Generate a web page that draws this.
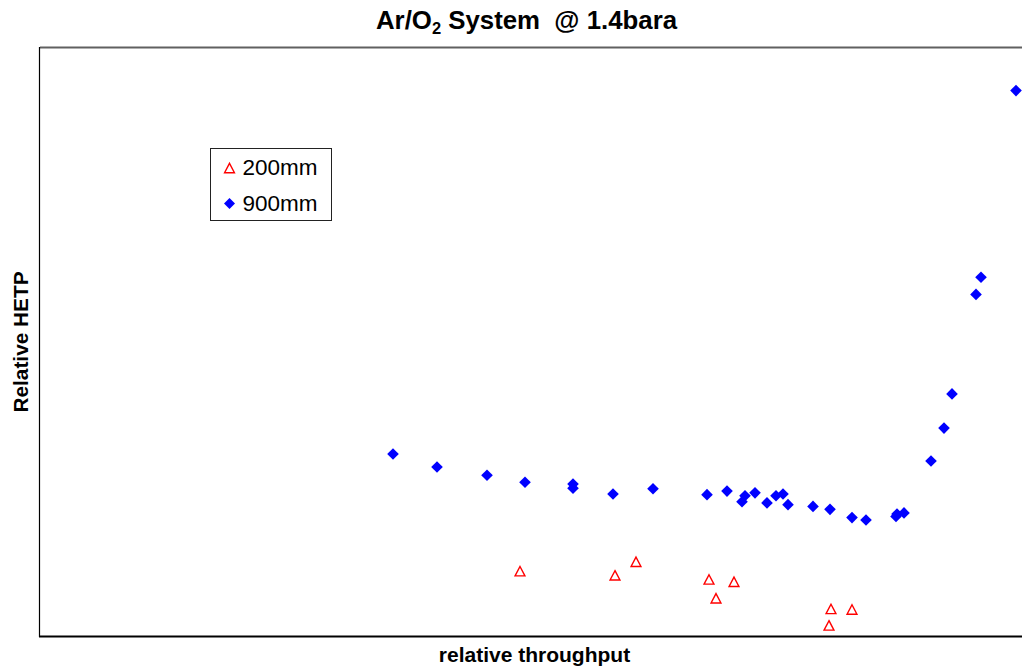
<!DOCTYPE html>
<html>
<head>
<meta charset="utf-8">
<script src="https://cdn.jsdelivr.net/npm/d3@7"></script>
<style>
	html, body { margin: 0; padding: 0; background: #fff; overflow: hidden; }
	#chart { width: 1022px; height: 668px; }
	text { font-family: Arial, 'Liberation Sans', sans-serif; }
</style>
</head>
<body>
<div id="chart"></div>
<script>
// values (relative units, 0..1 on both axes)
const seriesNames = ['200mm', '900mm'];

const x200 = [0.480, 0.575, 0.596, 0.669, 0.676, 0.694, 0.789, 0.791, 0.812];
const y200 = [0.110, 0.103, 0.126, 0.096, 0.064, 0.092, 0.018, 0.046, 0.045];

const x900 = [
	0.353, 0.397, 0.447, 0.485, 0.533, 0.533, 0.573, 0.613, 0.667, 0.687,
	0.702, 0.705, 0.715, 0.727, 0.736, 0.743, 0.748, 0.773, 0.790, 0.812,
	0.826, 0.856, 0.857, 0.864, 0.891, 0.904, 0.912, 0.936, 0.941, 0.976,
];
const y900 = [
	0.309, 0.287, 0.273, 0.261, 0.258, 0.251, 0.241, 0.250, 0.240, 0.246,
	0.228, 0.238, 0.243, 0.226, 0.238, 0.241, 0.223, 0.220, 0.215, 0.201,
	0.197, 0.203, 0.207, 0.209, 0.297, 0.353, 0.411, 0.580, 0.609, 0.926,
];

class ScatterChart {
	constructor({ element }) {
		this.element = element;
		this.data200 = x200.map((x, i) => ({ x, y: y200[i] }));
		this.data900 = x900.map((x, i) => ({ x, y: y900[i] }));

		this.draw();
	}

	draw() {
		this.width = 1022;
		this.height = 668;
		this.margin = {
			top: 47,
			right: -18,
			bottom: 32,
			left: 40,
		};

		this.element.innerHTML = '';
		this.svg = d3
			.select(this.element)
			.append('svg')
			.attr('width', this.width)
			.attr('height', this.height);

		this.createScales();
		this.addFrame();
		this.addLabels();
		this.addPoints();
		this.addLegend();
	}

	createScales() {
		const m = this.margin;

		this.xScale = d3
			.scaleLinear()
			.range([m.left, this.width - m.right])
			.domain([0, 1]);

		this.yScale = d3
			.scaleLinear()
			.range([this.height - m.bottom, m.top])
			.domain([0, 1]);
	}

	addFrame() {
		const [x0, x1] = this.xScale.range();
		const [y0, y1] = this.yScale.range();

		// top edge is grey, left and bottom are black like the original
		this.svg
			.append('line')
			.attr('x1', x0)
			.attr('x2', x1)
			.attr('y1', y1 + 0.5)
			.attr('y2', y1 + 0.5)
			.attr('stroke', '#606060')
			.attr('stroke-width', 2);

		this.svg
			.append('line')
			.attr('x1', x0 - 0.5)
			.attr('x2', x0 - 0.5)
			.attr('y1', y1)
			.attr('y2', y0 + 1)
			.attr('stroke', '#000')
			.attr('stroke-width', 1.2);

		this.svg
			.append('line')
			.attr('x1', x0 - 1)
			.attr('x2', x1)
			.attr('y1', y0 + 0.5)
			.attr('y2', y0 + 0.5)
			.attr('stroke', '#000')
			.attr('stroke-width', 2);
	}

	addLabels() {
		const title = this.svg
			.append('text')
			.attr('x', 526.5)
			.attr('y', 29)
			.attr('text-anchor', 'middle')
			.attr('font-size', 25.8)
			.attr('font-weight', 'bold')
			.style('white-space', 'pre');
		title.append('tspan').text('Ar/O');
		title.append('tspan').attr('font-size', 16.5).attr('dy', 5).text('2');
		title.append('tspan').attr('dy', -5).text(' System  @ 1.4bara');

		this.svg
			.append('text')
			.attr('x', 534.5)
			.attr('y', 662)
			.attr('text-anchor', 'middle')
			.attr('font-size', 21)
			.attr('font-weight', 'bold')
			.text('relative throughput');

		this.svg
			.append('text')
			.attr('transform', 'translate(28, 342) rotate(-90)')
			.attr('text-anchor', 'middle')
			.attr('font-size', 20.8)
			.attr('font-weight', 'bold')
			.text('Relative HETP');
	}

	triangle(s) {
		return `M0,${-s}L${s * 1.05},${s}L${-s * 1.05},${s}Z`;
	}

	diamond(s) {
		return `M0,${-s}L${s},0L0,${s}L${-s},0Z`;
	}

	addPoints() {
		this.svg
			.append('g')
			.selectAll('path')
			.data(this.data900)
			.join('path')
			.attr('transform', (d) => `translate(${this.xScale(d.x)},${this.yScale(d.y)})`)
			.attr('d', this.diamond(5.8))
			.attr('fill', '#0000ff');

		this.svg
			.append('g')
			.selectAll('path')
			.data(this.data200)
			.join('path')
			.attr('transform', (d) => `translate(${this.xScale(d.x)},${this.yScale(d.y)})`)
			.attr('d', this.triangle(4.7))
			.attr('fill', 'none')
			.attr('stroke', '#ff0000')
			.attr('stroke-width', 1.4);
	}

	addLegend() {
		const legend = this.svg.append('g').attr('transform', 'translate(210.5,148.5)');

		legend
			.append('rect')
			.attr('width', 121)
			.attr('height', 72)
			.attr('fill', '#fff')
			.attr('stroke', '#222')
			.attr('stroke-width', 1);

		legend
			.append('path')
			.attr('transform', 'translate(19,19.5)')
			.attr('d', this.triangle(4.7))
			.attr('fill', 'none')
			.attr('stroke', '#ff0000')
			.attr('stroke-width', 1.4);

		legend
			.append('path')
			.attr('transform', 'translate(19,55)')
			.attr('d', this.diamond(5.5))
			.attr('fill', '#0000ff');

		legend
			.selectAll('text')
			.data(seriesNames)
			.join('text')
			.attr('x', 32)
			.attr('y', (d, i) => 26.5 + i * 36)
			.attr('font-size', 22.5)
			.text((d) => d);
	}
}

new ScatterChart({ element: document.getElementById('chart') });
</script>
</body>
</html>
